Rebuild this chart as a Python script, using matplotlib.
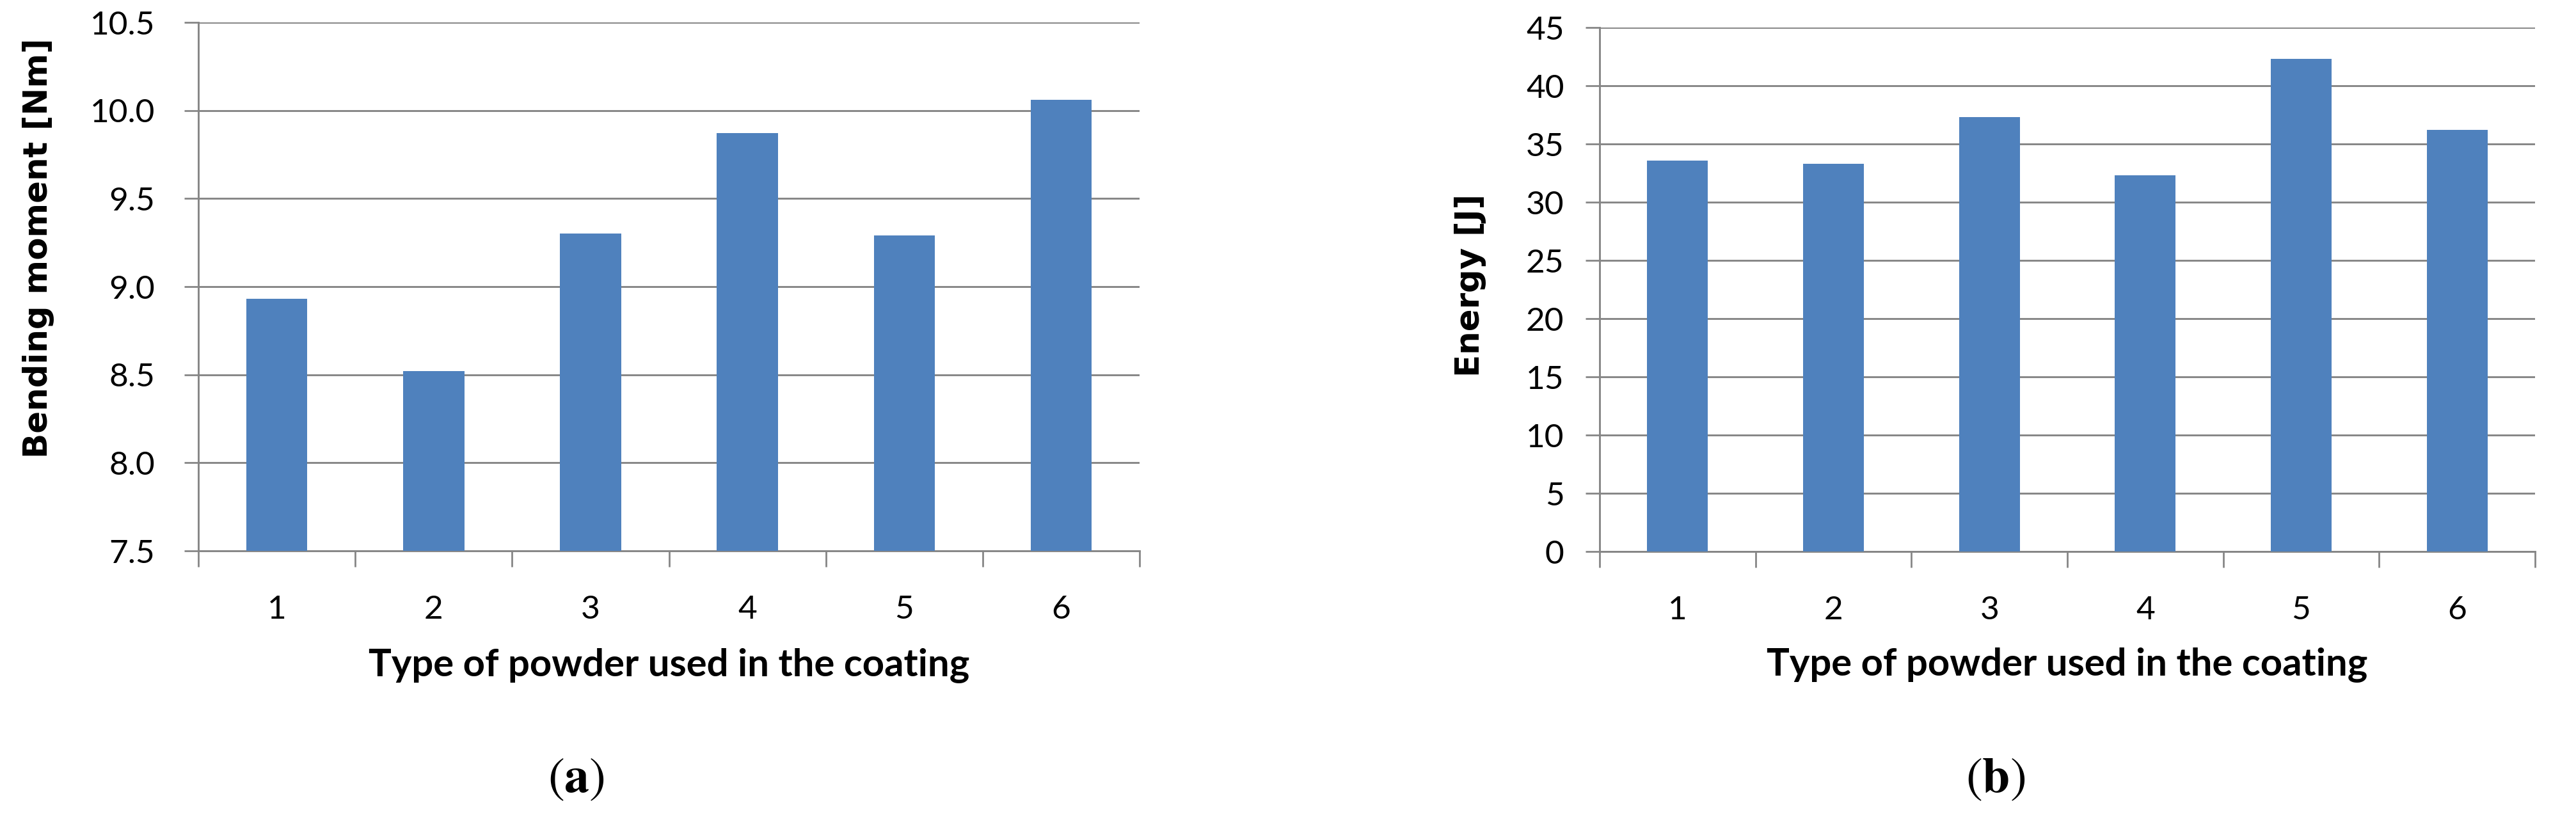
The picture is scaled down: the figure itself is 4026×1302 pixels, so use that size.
import matplotlib
matplotlib.use("Agg")
import matplotlib.pyplot as plt
from matplotlib.ticker import FixedLocator

# data
powder_types = ["1", "2", "3", "4", "5", "6"]
bending_moment = [8.93, 8.52, 9.30, 9.87, 9.29, 10.06]
energy = [33.6, 33.3, 37.3, 32.3, 42.3, 36.2]

moment_ticks = [7.5, 8.0, 8.5, 9.0, 9.5, 10.0, 10.5]
energy_ticks = [0, 5, 10, 15, 20, 25, 30, 35, 40, 45]

BAR = "#4F81BD"
GRID = "#868686"

plt.rcParams['font.family'] = ['Lato', 'DejaVu Sans']
plt.rcParams['mathtext.fontset'] = 'stix'

fig = plt.figure(figsize=(40.26, 13.02), dpi=100)
ax1 = fig.add_axes([0.0770, 0.3387, 0.3654, 0.6344])
ax2 = fig.add_axes([0.6210, 0.3379, 0.3631, 0.6290])


def style_axes(ax, values, ticks, ylabel, ylab_xy, ypad):
    x = list(range(1, len(values) + 1))
    ax.bar(x, values, width=0.39, color=BAR, zorder=3)
    ax.set_xlim(0.5, len(values) + 0.5)
    ax.set_ylim(ticks[0], ticks[-1])
    ax.set_yticks(ticks)
    ax.set_yticklabels([str(t) for t in ticks])
    ax.set_xticks(x)
    ax.set_xticklabels(powder_types)
    ax.xaxis.set_minor_locator(FixedLocator([i + 0.5 for i in range(0, len(values) + 1)]))
    ax.tick_params(axis='x', which='major', length=0, pad=50, labelsize=37)
    ax.tick_params(axis='x', which='minor', length=18, width=2.0, color=GRID)
    ax.tick_params(axis='y', length=16, width=2.0, color=GRID, pad=ypad, labelsize=37)
    ax.grid(axis='y', color=GRID, linewidth=2.1, zorder=0)
    for s in ['top', 'right']:
        ax.spines[s].set_visible(False)
    for s in ['left', 'bottom']:
        ax.spines[s].set_color(GRID)
        ax.spines[s].set_linewidth(2.1)
    # the source picture is stretched vertically, so the rotated title runs long
    ax.set_ylabel(ylabel, fontsize=37, fontweight='bold', family='DejaVu Sans')
    ax.yaxis.label.set_verticalalignment('center')
    ax.yaxis.set_label_coords(*ylab_xy)
    ax.set_xlabel("Type of powder used in the coating", fontsize=43, fontweight='bold')
    ax.xaxis.label.set_verticalalignment('center')
    ax.xaxis.set_label_coords(0.5, -0.217)


style_axes(ax1, bending_moment, moment_ticks, "Bending moment [Nm]", (-0.1700, 0.573), 33)
style_axes(ax2, energy, energy_ticks, "Energy [J]", (-0.1383, 0.508), 24)

fig.text(0.2236, 0.063, r"($\mathbf{a}$)", fontsize=56, family='STIXGeneral',
         ha='center', va='center')
fig.text(0.7745, 0.063, r"($\mathbf{b}$)", fontsize=56, family='STIXGeneral',
         ha='center', va='center')

fig.savefig("out.png", dpi=100, facecolor="white")
